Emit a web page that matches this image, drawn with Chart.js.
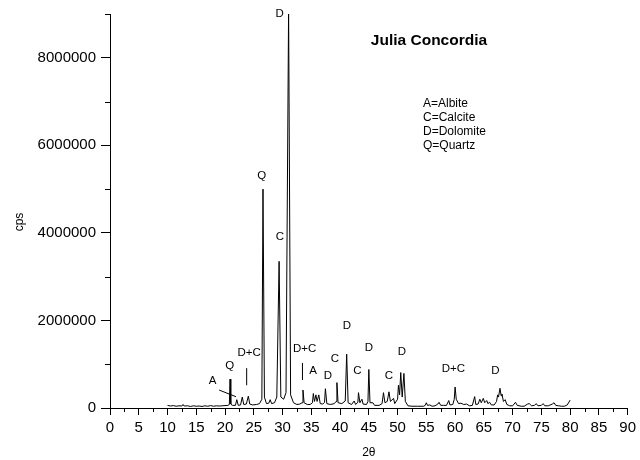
<!DOCTYPE html>
<html>
<head>
<meta charset="utf-8">
<title>Julia Concordia</title>
<script src="https://cdn.jsdelivr.net/npm/chart.js@4"></script>
<style>
  html, body { margin: 0; padding: 0; background: #fff; }
  canvas { display: block; }
</style>
</head>
<body>
<canvas id="grafico" width="640" height="460"></canvas>
<script>
// ============================
// DATOS
// ============================
const angulos = [
  10.0, 10.5, 11.0, 11.5, 12.0, 12.5, 12.7, 12.9, 13.5, 14.0, 14.5, 15.0, 15.5, 16.0,
  16.5, 17.0, 17.5, 18.0, 18.5, 19.0, 19.5, 20.0, 20.5, 20.75, 20.87, 21.0, 21.3, 21.8,
  22.05, 22.3, 22.7, 23.0, 23.25, 23.7, 24.05, 24.3, 24.8, 25.5, 26.0, 26.4, 26.6, 26.85,
  27.2, 27.6, 27.85, 28.1, 28.6, 29.0, 29.4, 29.7, 30.2, 30.6, 31.05, 31.4, 31.9, 32.5,
  33.0, 33.4, 33.55, 33.75, 34.3, 34.8, 35.2, 35.35, 35.55, 35.8, 36.0, 36.3, 36.55, 37.0,
  37.3, 37.45, 37.7, 38.3, 39.0, 39.3, 39.45, 39.65, 40.3, 40.9, 41.15, 41.4, 42.0, 42.45,
  42.7, 43.1, 43.2, 43.45, 43.8, 44.0, 44.6, 44.85, 45.0, 45.2, 45.7, 46.0, 46.8, 47.3,
  47.55, 47.8, 48.2, 48.5, 48.75, 49.3, 49.5, 50.0, 50.15, 50.35, 50.55, 50.8, 51.1, 51.35,
  51.8, 52.5, 53.5, 54.5, 54.8, 55.0, 55.2, 55.6, 56.0, 56.5, 57.0, 57.2, 57.5, 58.0,
  58.5, 58.9, 59.1, 59.6, 59.85, 60.0, 60.2, 60.6, 61.0, 61.5, 62.0, 62.5, 63.0, 63.4,
  63.6, 64.0, 64.3, 64.55, 64.9, 65.15, 65.5, 65.7, 66.0, 66.3, 66.8, 67.2, 67.4, 67.55,
  67.8, 68.0, 68.15, 68.4, 68.7, 69.0, 69.5, 70.0, 70.5, 70.8, 71.5, 72.0, 72.6, 72.9,
  73.3, 73.8, 74.1, 74.4, 75.0, 75.3, 75.6, 76.2, 76.9, 77.2, 77.5, 78.0, 78.5, 79.0,
  79.5, 80.0
];
const cps = [
  60000, 45000, 55000, 40000, 50000, 45000, 80000, 45000, 50000, 35000, 50000, 40000, 45000, 35000,
  50000, 40000, 55000, 40000, 50000, 45000, 50000, 55000, 60000, 80000, 660000, 90000, 60000, 60000,
  190000, 60000, 70000, 250000, 80000, 90000, 270000, 90000, 70000, 80000, 100000, 200000, 5000000, 250000,
  100000, 110000, 190000, 100000, 120000, 250000, 3350000, 250000, 200000, 350000, 9100000, 300000, 120000, 80000,
  90000, 120000, 410000, 120000, 80000, 80000, 120000, 330000, 150000, 300000, 150000, 300000, 100000, 90000,
  130000, 440000, 100000, 80000, 100000, 150000, 580000, 120000, 100000, 160000, 1230000, 120000, 80000, 160000,
  80000, 130000, 350000, 120000, 200000, 90000, 80000, 150000, 880000, 120000, 120000, 60000, 60000, 100000,
  350000, 120000, 150000, 370000, 150000, 220000, 100000, 200000, 520000, 300000, 810000, 250000, 790000, 150000,
  50000, 40000, 40000, 40000, 60000, 120000, 60000, 70000, 40000, 50000, 90000, 130000, 60000, 60000,
  60000, 170000, 70000, 80000, 200000, 480000, 200000, 100000, 110000, 80000, 90000, 50000, 60000, 260000,
  80000, 90000, 200000, 120000, 220000, 120000, 170000, 100000, 130000, 70000, 70000, 150000, 300000, 250000,
  450000, 280000, 320000, 150000, 190000, 80000, 50000, 50000, 130000, 60000, 40000, 40000, 90000, 100000,
  50000, 60000, 100000, 50000, 60000, 100000, 50000, 50000, 90000, 120000, 60000, 50000, 40000, 40000,
  70000, 180000
];

// etiquetas de los picos (posicion en 2θ / cps)
const picoTexto = ["D", "Q", "C", "A", "Q", "D+C", "D+C", "A", "D", "C", "D", "C", "D", "C", "D", "D+C", "D"];
const picoX = [29.5, 26.4, 29.55, 17.85, 20.8, 24.2, 33.85, 35.3, 37.9, 39.1, 41.2, 43.0, 45.0, 48.5, 50.75, 59.7, 67.0];
const picoY = [9000000, 5300000, 3910000, 616000, 965000, 1270000, 1360000, 840000, 730000, 1120000,
  1880000, 850000, 1375000, 730000, 1280000, 890000, 850000];

// trazos que senalan los picos: [x1, y1, x2, y2]
const trazos = [
  [18.98, 410000, 21.9, 258000],
  [23.76, 520000, 23.76, 910000],
  [33.46, 640000, 33.46, 1030000]
];

const leyenda = ["A=Albite", "C=Calcite", "D=Dolomite", "Q=Quartz"];
const titulo = "Julia Concordia";

const ticksX = [0, 5, 10, 15, 20, 25, 30, 35, 40, 45, 50, 55, 60, 65, 70, 75, 80, 85, 90];
const menoresX = [2.5, 7.5, 12.5, 17.5, 22.5, 27.5, 32.5, 37.5, 42.5, 47.5, 52.5, 57.5, 62.5, 67.5, 72.5, 77.5, 82.5, 87.5];
const ticksY = [0, 2000000, 4000000, 6000000, 8000000];
const menoresY = [1000000, 3000000, 5000000, 7000000, 9000000];

const FUENTE = "'Liberation Sans', Arial, sans-serif";

// ============================
// PLUGIN: etiquetas y ticks menores
// ============================
const anotaciones = {
  id: "anotaciones",
  afterDraw(chart) {
    const ctx = chart.ctx;
    const sx = chart.scales.x;
    const sy = chart.scales.y;
    const area = chart.chartArea;
    ctx.save();
    ctx.strokeStyle = "#000";
    ctx.fillStyle = "#000";
    ctx.lineWidth = 1;

    // ticks menores
    ctx.beginPath();
    menoresX.forEach((v) => {
      const px = Math.round(sx.getPixelForValue(v)) + 0.5;
      ctx.moveTo(px, area.bottom);
      ctx.lineTo(px, area.bottom + 4);
    });
    menoresY.forEach((v) => {
      const py = Math.round(sy.getPixelForValue(v)) + 0.5;
      ctx.moveTo(area.left - 5, py);
      ctx.lineTo(area.left, py);
    });
    ctx.stroke();

    // trazos
    ctx.beginPath();
    trazos.forEach((t) => {
      ctx.moveTo(sx.getPixelForValue(t[0]), sy.getPixelForValue(t[1]));
      ctx.lineTo(sx.getPixelForValue(t[2]), sy.getPixelForValue(t[3]));
    });
    ctx.stroke();

    // etiquetas de picos
    ctx.font = "11.5px " + FUENTE;
    ctx.textAlign = "center";
    ctx.textBaseline = "middle";
    picoTexto.forEach((t, i) => {
      ctx.fillText(t, sx.getPixelForValue(picoX[i]), sy.getPixelForValue(picoY[i]));
    });

    // titulo
    ctx.font = "bold 15.5px " + FUENTE;
    ctx.fillText(titulo, 429, 41);

    // leyenda
    ctx.font = "12px " + FUENTE;
    ctx.textAlign = "left";
    leyenda.forEach((t, i) => {
      ctx.fillText(t, 423, 104 + i * 14);
    });

    // titulos de ejes
    ctx.font = "12px " + FUENTE;
    ctx.textAlign = "center";
    ctx.fillText("2θ", (area.left + area.right) / 2, 453);
    ctx.translate(20, 222);
    ctx.rotate(-Math.PI / 2);
    ctx.fillText("cps", 0, 0);
    ctx.restore();
  }
};

// ============================
// GRAFICO
// ============================
new Chart(document.getElementById("grafico"), {
  type: "line",
  data: {
    datasets: [{
      data: angulos.map((a, i) => ({ x: a, y: cps[i] })),
      borderColor: "#000",
      borderWidth: 1,
      pointRadius: 0,
      tension: 0,
      fill: false
    }]
  },
  options: {
    responsive: false,
    animation: false,
    devicePixelRatio: 1,
    layout: { padding: { top: 14, right: 10, left: 0, bottom: 0 } },
    plugins: { legend: { display: false }, tooltip: { enabled: false } },
    scales: {
      x: {
        type: "linear",
        min: 0,
        max: 90,
        afterBuildTicks: (s) => { s.ticks = ticksX.map((v) => ({ value: v })); },
        afterFit: (s) => { s.height = 52; },
        grid: { drawOnChartArea: false, tickLength: 7, color: "#000" },
        border: { display: true, color: "#000", width: 1 },
        ticks: { color: "#000", font: { family: FUENTE, size: 15 }, padding: 4, maxRotation: 0, autoSkip: false }
      },
      y: {
        type: "linear",
        min: 0,
        max: 9000000,
        afterBuildTicks: (s) => { s.ticks = ticksY.map((v) => ({ value: v })); },
        afterFit: (s) => { s.width = 110; },
        grid: { drawOnChartArea: false, tickLength: 9, color: "#000" },
        border: { display: true, color: "#000", width: 1 },
        ticks: { color: "#000", font: { family: FUENTE, size: 15 }, padding: 5, callback: (v) => String(v) }
      }
    }
  },
  plugins: [anotaciones]
});
</script>
</body>
</html>
